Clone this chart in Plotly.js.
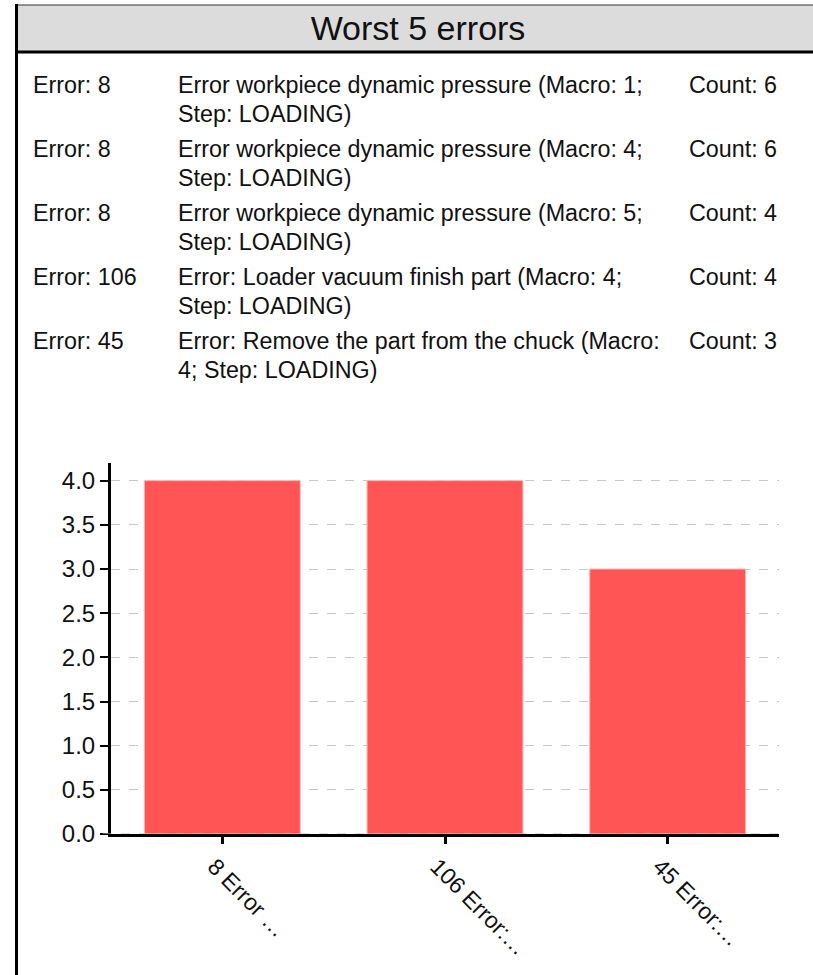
<!DOCTYPE html>
<html>
<head>
<meta charset="utf-8">
<script src="https://cdn.plot.ly/plotly-3.0.1.min.js"></script>
<style>
  html, body { margin: 0; padding: 0; background: #ffffff; }
  #chart { width: 813px; height: 975px; }
</style>
</head>
<body>
<div id="chart"></div>
<script>
// ---- data ----
var categories = ["8 Error \u2026", "106 Error:\u2026", "45 Error:\u2026"];
var values = [4, 4, 3];

var errorCodes = ["Error: 8", "Error: 8", "Error: 8", "Error: 106", "Error: 45"];
var descLine1 = [
  "Error workpiece dynamic pressure (Macro: 1;",
  "Error workpiece dynamic pressure (Macro: 4;",
  "Error workpiece dynamic pressure (Macro: 5;",
  "Error: Loader vacuum finish part (Macro: 4;",
  "Error: Remove the part from the chuck (Macro:"
];
var descLine2 = [
  "Step: LOADING)",
  "Step: LOADING)",
  "Step: LOADING)",
  "Step: LOADING)",
  "4; Step: LOADING)"
];
var counts = ["Count: 6", "Count: 6", "Count: 4", "Count: 4", "Count: 3"];
var chartTitle = "Worst 5 errors";

// ---- layout geometry (pixels) ----
var W = 813, H = 975;
var L = 111, R = 779, T = 463, B = 834;
function px(x) { return (x - L) / (R - L); }
function py(y) { return (B - y) / (B - T); }

var FONT = "Liberation Sans, Arial, sans-serif";
var annotations = [];
var rowY = [85, 149, 213, 277, 341];
var lineGap = 29;
for (var i = 0; i < errorCodes.length; i++) {
  var base = {xref: "paper", yref: "paper", showarrow: false, xanchor: "left", yanchor: "middle",
              font: {family: FONT, size: 23.3, color: "#111111"}};
  annotations.push(Object.assign({}, base, {x: px(31), y: py(rowY[i]), text: errorCodes[i]}));
  annotations.push(Object.assign({}, base, {x: px(176), y: py(rowY[i]), text: descLine1[i]}));
  annotations.push(Object.assign({}, base, {x: px(176), y: py(rowY[i] + lineGap), text: descLine2[i]}));
  annotations.push(Object.assign({}, base, {x: px(687), y: py(rowY[i]), text: counts[i]}));
}

var shapes = [
  // header box
  {type: "rect", xref: "paper", yref: "paper", x0: px(16), x1: px(830), y0: py(5), y1: py(52),
   fillcolor: "#dcdcdc", line: {color: "#333333", width: 1}, layer: "below"},
  // header bottom border
  {type: "line", xref: "paper", yref: "paper", x0: px(16), x1: px(830), y0: py(52), y1: py(52),
   line: {color: "#000000", width: 3}},
  // left frame border
  {type: "line", xref: "paper", yref: "paper", x0: px(16.5), x1: px(16.5), y0: py(4), y1: py(980),
   line: {color: "#000000", width: 3}},
  // dashed overlay on the zero line
  {type: "line", xref: "paper", yref: "y", x0: px(103), x1: 1, y0: 0, y1: 0,
   line: {color: "#bbbbbb", width: 1, dash: "dash"}, layer: "above"}
];

var trace = {
  type: "bar",
  x: categories,
  y: values,
  width: 0.7,
  marker: {color: "#ff5555", line: {color: "#ffb3b3", width: 1}},
  hoverinfo: "none"
};

var layout = {
  width: W, height: H,
  margin: {l: L, r: W - R, t: T, b: H - B, pad: 0},
  paper_bgcolor: "#ffffff",
  plot_bgcolor: "#ffffff",
  showlegend: false,
  title: {text: chartTitle, font: {family: FONT, size: 34, color: "#111111"},
          xref: "container", yref: "container", x: 418 / W, xanchor: "center",
          y: 1 - 28 / H, yanchor: "middle"},
  xaxis: {
    type: "category",
    range: [-0.5, 2.5],
    showline: true, linecolor: "#000000", linewidth: 3,
    ticks: "outside", ticklen: 7, tickwidth: 3, tickcolor: "#000000",
    tickangle: 45,
    ticklabelshift: -8,
    tickfont: {family: FONT, size: 23, color: "#111111"},
    showgrid: false, zeroline: false, fixedrange: true
  },
  yaxis: {
    range: [0, 4.2],
    dtick: 0.5, tick0: 0, tickformat: ".1f",
    showline: true, linecolor: "#000000", linewidth: 3,
    ticks: "outside", ticklen: 8, tickwidth: 2, tickcolor: "#000000",
    tickfont: {family: FONT, size: 24, color: "#111111"},
    showgrid: true, gridcolor: "#c8c8c8", gridwidth: 1, griddash: "dash",
    zeroline: false, fixedrange: true
  },
  annotations: annotations,
  shapes: shapes
};

Plotly.newPlot("chart", [trace], layout, {displayModeBar: false, staticPlot: true});
</script>
</body>
</html>
